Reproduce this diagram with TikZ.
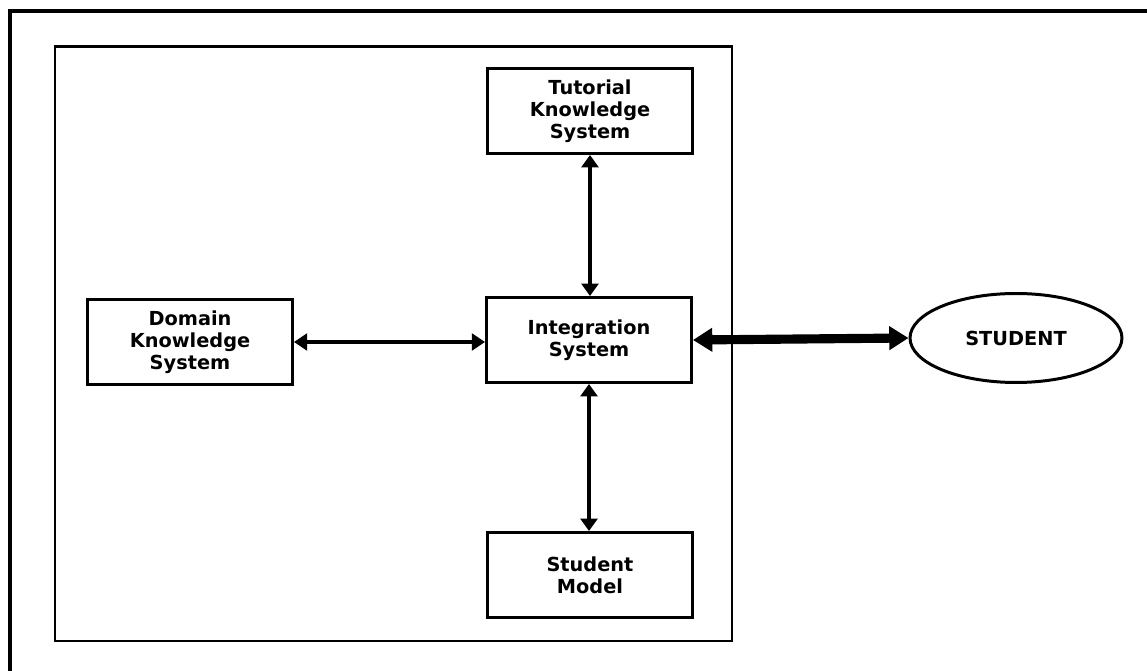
\documentclass[tikz,border=0pt]{standalone}
\usepackage{fontspec}
\setmainfont{DejaVu Sans}
\usepackage{tikz}
\usetikzlibrary{arrows.meta,shapes.geometric}

\tikzset{
  scatola/.style={draw, line width=1.7pt, minimum width=4.1cm, minimum height=1.7cm,
    inner sep=0pt, align=center, font=\fontsize{11}{12.4}\selectfont\bfseries},
  freccia/.style={{Triangle[length=7pt,width=9.5pt]}-{Triangle[length=7pt,width=9.5pt]}, line width=2.4pt},
  frecciaSottile/.style={{Triangle[length=7.5pt,width=9.5pt]}-{Triangle[length=7.5pt,width=9.5pt]}, line width=2pt},
  frecciaGrossa/.style={{Triangle[length=11pt,width=13pt]}-{Triangle[length=11pt,width=13pt]}, line width=5.2pt}
}

\begin{document}
\begin{tikzpicture}[x=0.02cm, y=-0.02cm]

% Area del disegno (in pixel)
\useasboundingbox (0,0) rectangle (1147,671);

% Cornici
\draw[line width=2pt] (10,671) -- (10,11) -- (1147,11);
\draw[line width=1.7pt] (55,47) rectangle (732,641);

% Blocchi
\node[scatola] (tut) at (590,111) {Tutorial\\Knowledge\\System};
\node[scatola] (dom) at (190,342) {Domain\\Knowledge\\System};
\node[scatola] (integ) at (589,340) {Integration\\System};
\node[scatola] (smod) at (590,575) {Student\\Model};

% Studente
\node[draw, ellipse, line width=1.7pt, minimum width=4.24cm, minimum height=1.78cm,
  inner sep=0pt, font=\fontsize{11}{12.4}\selectfont\bfseries] (stud) at (1016,338) {STUDENT};

% Collegamenti
\draw[freccia] (tut.south) -- (tut.south |- integ.north);
\draw[freccia] (integ.south) -- (integ.south |- smod.north);
\draw[frecciaSottile] (dom.east) -- (dom.east -| integ.west);
\draw[frecciaGrossa] (integ.east) -- (stud.west);

\end{tikzpicture}
\end{document}
